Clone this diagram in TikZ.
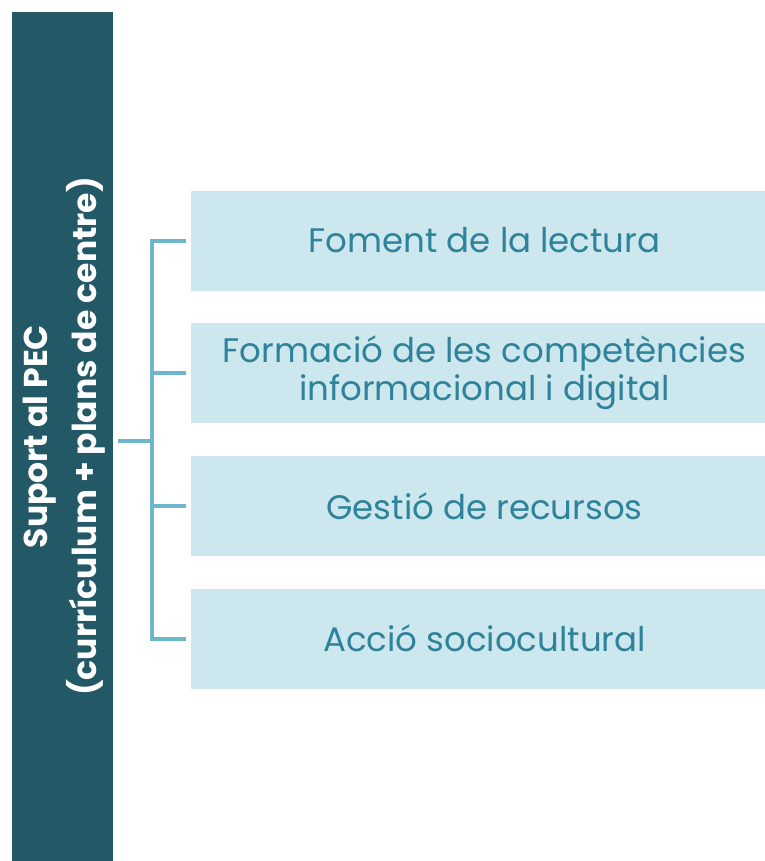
\documentclass[tikz,border=0pt]{standalone}
\usepackage{fontspec}
\setmainfont{Poppins}
\usetikzlibrary{positioning,calc}

\definecolor{bardark}{RGB}{35,88,102}
\definecolor{boxfill}{RGB}{205,231,238}
\definecolor{boxtext}{RGB}{46,130,153}
\definecolor{bracecol}{RGB}{110,182,204}

\tikzset{
  itembox/.style={rectangle, fill=boxfill, text=boxtext, align=center,
    minimum width=587pt, minimum height=100pt, inner sep=0pt,
    font=\fontsize{34}{38}\selectfont},
  brace/.style={bracecol, line width=4pt}
}

\begin{document}
\begin{tikzpicture}[x=1pt, y=-1pt]
  \useasboundingbox (0,0) rectangle (764,861);

  \node[rectangle, fill=bardark, minimum width=101pt, minimum height=849pt, inner sep=0pt] at (62,436.5) (pec) {};
  \node[rotate=90, text=white, align=center, font=\bfseries\fontsize{33}{49}\selectfont] at (64,436.5) (peclabel) {Suport al PEC\\(currículum + plans de centre)};

  \node[itembox] at (484.5,240.5) (lectura) {Foment de la lectura};
  \node[itembox] at (484.5,373) (formacio) {Formació de les competències\\informacional i digital};
  \node[itembox] at (484.5,506) (gestio) {Gestió de recursos};
  \node[itembox] at (484.5,638.5) (accio) {Acció sociocultural};

  \coordinate (hub) at (152,441);
  \coordinate (stub) at (118,441);

  \draw[brace] (stub) -- (hub);
  \draw[brace] ([xshift=-5pt]lectura.west) -| (hub) |- ([xshift=-5pt]accio.west);
  \draw[brace] ([xshift=-5pt]formacio.west) -- (formacio.west -| hub);
  \draw[brace] ([xshift=-5pt]gestio.west) -- (gestio.west -| hub);
\end{tikzpicture}
\end{document}
